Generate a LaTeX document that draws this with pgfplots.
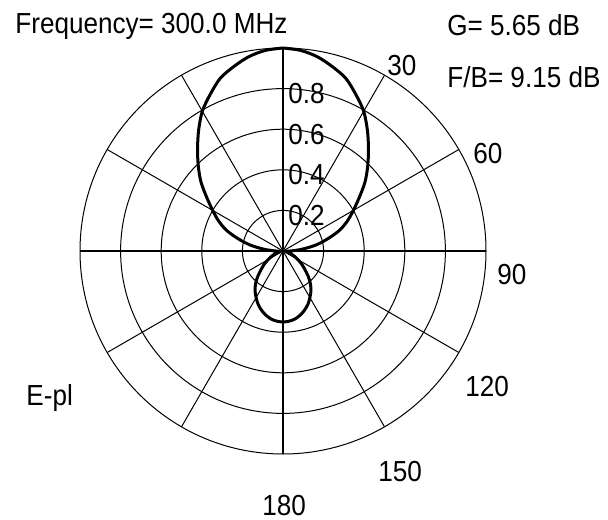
\documentclass[border=0pt]{standalone}
\usepackage{fontspec}
\setmainfont{Liberation Sans}[FakeStretch=0.9]
\usepackage{pgfplots}
\usepackage{pgfplotstable}
\pgfplotsset{compat=1.18}

% field pattern, angle clockwise from the top (0..180, mirrored for the left half)
\pgfplotstableread{
a   r
0   1.000
5   0.992
10  0.972
15  0.940
20  0.905
25  0.850
30  0.795
35  0.725
40  0.655
45  0.590
50  0.527
55  0.458
60  0.400
65  0.350
70  0.295
75  0.225
80  0.160
85  0.090
90  0.035
95  0.012
100 0.020
105 0.032
110 0.045
115 0.063
120 0.085
125 0.112
130 0.140
135 0.175
140 0.210
145 0.240
150 0.265
155 0.290
160 0.310
165 0.327
170 0.340
175 0.347
180 0.350
}\patt

\newcommand\lbl{\fontsize{14.5}{16}\selectfont}

\begin{document}
\begin{tikzpicture}
\begin{axis}[
    scale only axis,
    width=304pt, height=259.5pt,
    xmin=-1.3941, xmax=1.6010,
    ymin=-1.3202, ymax=1.2365,
    hide axis, clip=false,
]
\path (rel axis cs:0,0) rectangle (rel axis cs:1,1);

% grid
\pgfplotsinvokeforeach{0.2,0.4,0.6,0.8,1.0}{
    \draw[black, line width=0.5pt] (axis cs:0,0) circle[radius=#1];
}
\pgfplotsinvokeforeach{30,60,120,150,210,240,300,330}{
    \draw[black, line width=0.5pt] (axis cs:0,0) -- (axis cs:{sin(#1)},{cos(#1)});
}
\draw[black, line width=0.6pt] (axis cs:-1,0) -- (axis cs:1,0);
\draw[black, line width=0.6pt] (axis cs:0,-1) -- (axis cs:0,1);

% radial labels
\pgfplotsinvokeforeach{0.2,0.4,0.6,0.8}{
    \node[anchor=base west, font=\lbl, inner sep=0pt] at (axis cs:0.0246,{#1-0.0739}) {#1};
}

% angle labels
\node[anchor=base west, font=\lbl, inner sep=0pt] at (axis cs:0.5123,0.8670) {30};
\node[anchor=base west, font=\lbl, inner sep=0pt] at (axis cs:0.9360,0.4335) {60};
\node[anchor=base west, font=\lbl, inner sep=0pt] at (axis cs:1.0542,-0.1626) {90};
\node[anchor=base west, font=\lbl, inner sep=0pt] at (axis cs:0.8966,-0.7143) {120};
\node[anchor=base west, font=\lbl, inner sep=0pt] at (axis cs:0.4680,-1.1379) {150};
\node[anchor=base west, font=\lbl, inner sep=0pt] at (axis cs:-0.1034,-1.3005) {180};

% texts
\node[anchor=base west, font=\lbl, inner sep=0pt] at (axis cs:-1.3200,1.0739) {Frequency= 300.0 MHz};
\node[anchor=base west, font=\lbl, inner sep=0pt] at (axis cs:0.8079,1.0640) {G= 5.65 dB};
\node[anchor=base west, font=\lbl, inner sep=0pt] at (axis cs:0.8079,0.8079) {F/B= 9.15 dB};
\node[anchor=base west, font=\lbl, inner sep=0pt] at (axis cs:-1.2660,-0.7586) {E-pl};

% pattern
\addplot[black, line width=1.5pt, smooth, line join=round]
    table[x expr={\thisrow{r}*sin(\thisrow{a})}, y expr={\thisrow{r}*cos(\thisrow{a})}] \patt;
\addplot[black, line width=1.5pt, smooth, line join=round]
    table[x expr={-\thisrow{r}*sin(\thisrow{a})}, y expr={\thisrow{r}*cos(\thisrow{a})}] \patt;
\end{axis}
\end{tikzpicture}
\end{document}
